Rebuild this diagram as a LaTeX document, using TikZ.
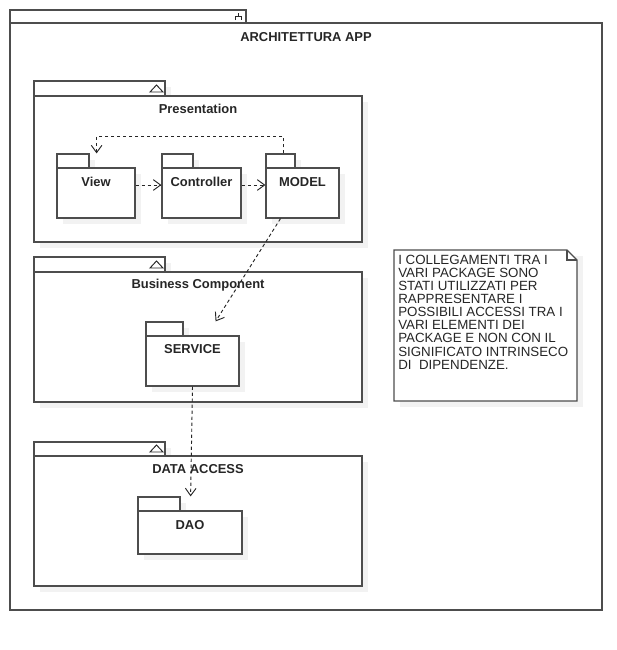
\documentclass[tikz,border=0pt]{standalone}
\usepackage{fontspec}
\setmainfont{Liberation Sans}
\usetikzlibrary{arrows.meta,fit}
\definecolor{linec}{HTML}{4D4D4D}
\definecolor{shadowc}{HTML}{F2F2F2}
\tikzset{
  frame/.style={draw=linec, line width=0.9pt, fill=white, inner sep=0pt},
  shadowbox/.style={fill=shadowc, draw=none},
  ttl/.style={font=\fontsize{9.7pt}{11pt}\selectfont\bfseries, text=black!85, inner sep=0pt},
  dep/.style={draw=black!85, line width=0.7pt, dash pattern=on 2.5pt off 2pt,
    -{Straight Barb[length=5.5pt,width=8pt,line width=0.7pt]}},
  icon/.style={draw=black!85, line width=0.7pt}
}
\newcommand{\umlpkg}[7]{%
  \fill[shadowbox] (#2+6,#3+6) rectangle (#4+6,#5+6);
  \fill[shadowbox] (#2+6,#5+6) rectangle (#6+6,#7+6);
  \node[frame, fit={(#2,#3) (#4,#5)}] (#1tab) {};
  \node[frame, fit={(#2,#5) (#6,#7)}] (#1) {};
}
\begin{document}
\begin{tikzpicture}[x=0.75pt,y=-0.75pt]
\useasboundingbox (0,0) rectangle (617,650);
% outer package
\node[frame, fit={(10,10) (246,23)}] (apptab) {};
\node[frame, fit={(10,23) (602,610)}] (app) {};
\draw[icon] (238,13) -- (238,16) (235,20) -- (235,16) -- (241,16) -- (241,20);
\node[ttl] (appT) at (306,37) {ARCHITETTURA APP};
% Presentation
\umlpkg{pres}{34}{81}{165}{96}{362}{242}
\draw[icon] (150,92) -- (163,92) -- (156.5,85) -- cycle;
\node[ttl] (presT) at (198,109) {Presentation};
\umlpkg{view}{57}{154}{89}{168}{135}{218}
\node[ttl] (viewT) at (96,182) {View};
\umlpkg{ctrl}{162}{154}{193}{168}{241}{218}
\node[ttl] (ctrlT) at (201.5,182) {Controller};
\umlpkg{model}{266}{154}{295}{168}{339}{218}
\node[ttl] (modelT) at (302.5,182) {MODEL};
% Business Component
\umlpkg{bus}{34}{257}{165}{272}{362}{402}
\draw[icon] (150,268) -- (163,268) -- (156.5,261) -- cycle;
\node[ttl] (busT) at (198,285) {Business Component};
\umlpkg{serv}{146}{322}{183}{336}{239}{386}
\node[ttl] (servT) at (192.5,349) {SERVICE};
% Data access
\umlpkg{data}{34}{442}{165}{456}{362}{586}
\draw[icon] (150,452) -- (163,452) -- (156.5,445) -- cycle;
\node[ttl] (dataT) at (198,469) {DATA ACCESS};
\umlpkg{dao}{138}{497}{180}{511}{242}{554}
\node[ttl] (daoT) at (190,525) {DAO};
% connectors
\draw[dep] ([yshift=6pt]view.east) -- ([yshift=6pt]ctrl.west);
\draw[dep] ([yshift=6pt]ctrl.east) -- ([yshift=6pt]model.west);
\draw[dep] ([xshift=2pt]modeltab.north) -- ++(0,-17) -| ([xshift=5.25pt]viewtab.north east);
\draw[dep] ([xshift=-16.5pt]model.south) -- ([xshift=24pt]servtab.north east);
\draw[dep] (serv.south) -- ([xshift=7.5pt]daotab.north east);
% note
\fill[shadowbox] (400,256) rectangle (583,407);
\draw[frame] (394,250) -- (567,250) -- (577,260) -- (577,401) -- (394,401) -- cycle;
\draw[draw=linec, line width=0.9pt] (567,250) -- (567,260) -- (577,260);
\node[fit={(394,250) (577,401)}, inner sep=0pt] (note) {};
\node[anchor=north west, align=left, inner sep=0pt, text=black!85,
  font=\fontsize{10pt}{9.8pt}\selectfont] (noteT) at (398,255)
  {I COLLEGAMENTI TRA I\\VARI PACKAGE SONO\\STATI UTILIZZATI PER\\RAPPRESENTARE I\\POSSIBILI ACCESSI TRA I\\VARI ELEMENTI DEI\\PACKAGE E NON CON IL\\SIGNIFICATO INTRINSECO\\DI~ DIPENDENZE.};
\end{tikzpicture}
\end{document}
